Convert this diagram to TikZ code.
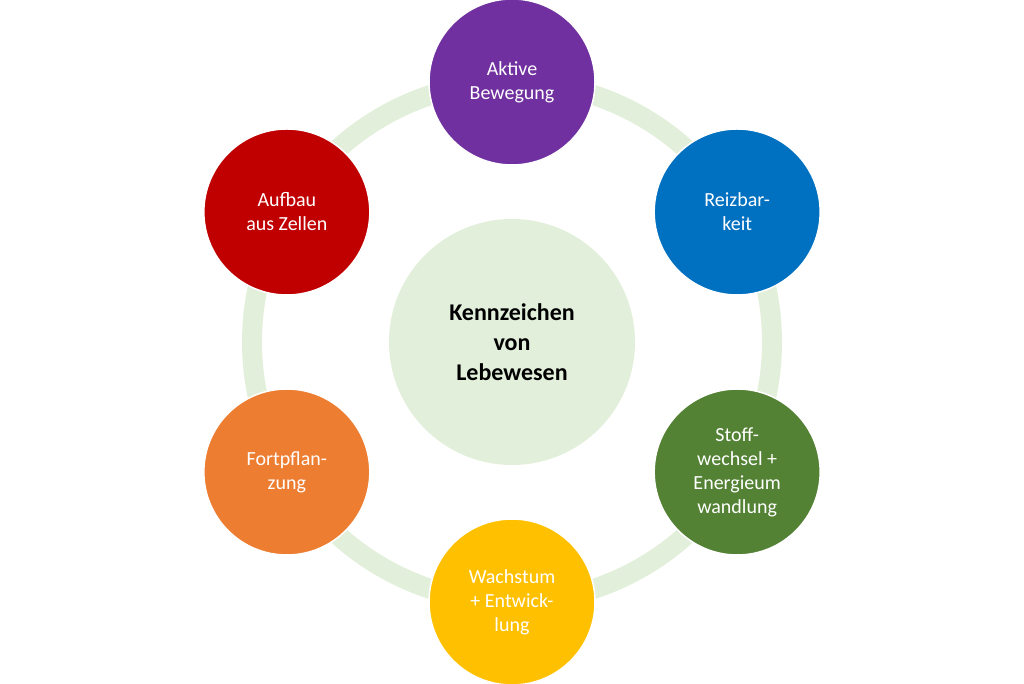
\documentclass[tikz,border=0pt]{standalone}
\usepackage{fontspec}
\setmainfont{Carlito}
\definecolor{ring}{HTML}{E2EFDA}
\definecolor{cpurple}{HTML}{7030A0}
\definecolor{cblue}{HTML}{0070C0}
\definecolor{cgreen}{HTML}{548235}
\definecolor{cyellow}{HTML}{FFC000}
\definecolor{corange}{HTML}{ED7D31}
\definecolor{cred}{HTML}{C00000}
\begin{document}
\begin{tikzpicture}[x=1pt,y=1pt,
  outer/.style={circle,minimum size=166pt,inner sep=0pt,draw=white,line width=1.5pt,text=white,align=center,font=\fontsize{20}{24}\selectfont},
  center/.style={circle,minimum size=246pt,fill=ring,align=center,font=\fontsize{24}{30}\selectfont\bfseries}]
\useasboundingbox (0,0) rectangle (1024,684);
\coordinate (c) at (512,342);
\draw[ring,line width=20pt] (c) circle (260);
\node[center] (k) at (c) {Kennzeichen\\von\\Lebewesen};
\node[outer,fill=cpurple] (a) at (512,602) {Aktive\\Bewegung};
\node[outer,fill=cblue] (r) at ({512+260*cos(30)},472) {Reizbar-\\keit};
\node[outer,fill=cgreen] (s) at ({512+260*cos(30)},212) {Stoff-\\wechsel +\\Energieum\\wandlung};
\node[outer,fill=cyellow] (w) at (512,82) {Wachstum\\+ Entwick-\\lung};
\node[outer,fill=corange] (f) at ({512-260*cos(30)},212) {Fortpflan-\\zung};
\node[outer,fill=cred] (z) at ({512-260*cos(30)},472) {Aufbau\\aus Zellen};
\end{tikzpicture}
\end{document}
